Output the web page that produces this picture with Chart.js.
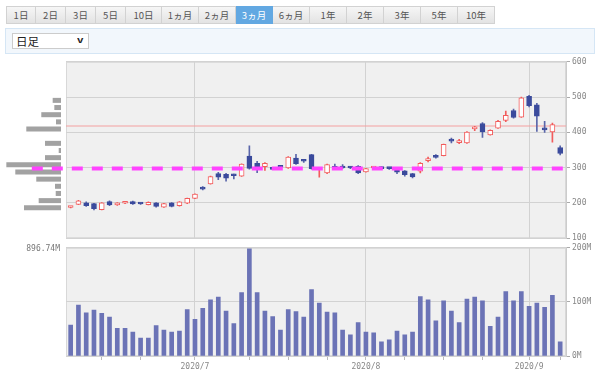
<!DOCTYPE html>
<html>
<head>
<meta charset="utf-8">
<script src="https://cdn.jsdelivr.net/npm/chart.js@4.4.0/dist/chart.umd.min.js"></script>
<style>
  body { margin: 0; width: 600px; height: 378px; background: #fff; position: relative; overflow: hidden;
         font-family: "Noto Sans CJK JP", sans-serif; }
  .tabs { position: absolute; left: 6px; top: 6px; display: flex; }
  .tab { height: 18px; line-height: 17px; font-size: 9.5px; color: #555; text-align: center;
         background: linear-gradient(#f6f6f6, #e3e3e3); border: 1px solid #d2d2d2; border-left: none;
         box-sizing: border-box; }
  .tab:first-child { border-left: 1px solid #d2d2d2; }
  .tab.on { background: #62a8e2; color: #fff; border-color: #62a8e2; }
  .bar { position: absolute; left: 5px; top: 28px; width: 590px; height: 26px; box-sizing: border-box;
         background: #f2f7fc; border: 1px solid #d5e6f5; }
  .sel { position: absolute; left: 6px; top: 4px; width: 77px; height: 16px; box-sizing: border-box;
         background: #fff; border: 1px solid #ccc; font-size: 11.5px; line-height: 14px; padding-left: 3px; color: #222; }
  .sel span { position: absolute; right: 5px; top: -1px; font-size: 8px; font-weight: bold; transform: scaleX(1.4); }
  canvas { position: absolute; }
  #profMax { position: absolute; left: 0; top: 244px; width: 60px; text-align: right;
             font: 8px "DejaVu Sans Mono", monospace; color: #777; }
</style>
</head>
<body>
<div class="tabs" id="tabs"></div>
<div class="bar"><div class="sel">日足<span>v</span></div></div>
<canvas id="prof" width="66" height="190" style="left:0;top:55px"></canvas>
<canvas id="price" width="600" height="190" style="left:0;top:55px"></canvas>
<canvas id="vol" width="600" height="137" style="left:0;top:241px"></canvas>
<div id="profMax">896.74M</div>
<script>
// period tabs
const tabLabels = ['1日', '2日', '3日', '5日', '10日', '1ヵ月', '2ヵ月', '3ヵ月', '6ヵ月', '1年', '2年', '3年', '5年', '10年'];
const tabWidths = [30, 30, 30, 30, 36, 37, 37, 37, 37, 37, 37, 37, 37, 37];
const activeTab = '3ヵ月';

// daily candles (3 months)
const opens  = [187,196,200,198,181,204,194,199,204,199,195,200,188,200,192,199,213,244,254,283,
                281,279,276,333,312,303,299,304,299,327,320,337,295,285,304,302,301,304,288,299,
                300,298,295,291,283,290,320,335,334,381,371,370,410,425,393,412,434,462,443,502,
                478,410,401,357];
const highs  = [190,207,203,199,201,206,201,203,205,200,203,201,199,201,204,214,226,246,276,287,
                284,282,311,362,318,314,300,306,331,338,323,338,299,310,310,309,303,306,298,302,
                302,300,297,292,284,314,330,337,367,384,380,402,417,428,407,434,460,466,500,505,
                482,431,426,362];
const lows   = [186,195,190,180,180,192,193,198,196,196,194,188,187,189,191,198,212,237,253,266,
                262,268,275,296,286,292,294,300,298,309,315,296,273,283,295,298,297,283,287,297,
                296,295,283,276,271,285,316,327,333,370,368,369,405,386,392,411,430,440,442,472,
                403,400,372,336];
const closes = [189,206,192,184,200,194,200,202,197,197,202,190,198,190,203,213,225,239,275,273,
                270,277,310,298,301,312,295,301,330,311,318,297,297,309,298,299,299,285,297,301,
                297,297,287,280,274,312,326,329,366,375,376,401,413,401,406,431,448,442,498,476,
                446,407,422,340];
// volume, millions
const volumes = [57,94,80,85,79,72,51,51,44,33,33,56,48,44,46,86,68,88,104,109,
                 83,60,117,198,117,83,73,48,86,82,72,123,98,81,80,48,39,62,44,43,
                 26,30,46,39,44,110,104,65,102,83,62,105,109,102,55,72,119,102,119,92,
                 98,90,112,26];

// x axis marks (candle index)
const monthIdx = [16, 38, 59];
const monthLabels = ['2020/7', '2020/8', '2020/9'];
const weekIdx = [4, 9, 23, 28, 33, 43, 48, 53, 63];

// price levels
const priceTicks = [100, 200, 300, 400, 500, 600];
const resistLevel = 418;
const pocLevel = 297.5;
const pocStartIdx = -5;

// volume by price (20 yen bins, top to bottom), millions
const profileBins = ['580-600','560-580','540-560','520-540','500-520','480-500','460-480','440-460','420-440','400-420',
                     '380-400','360-380','340-360','320-340','300-320','280-300','260-280','240-260','220-240','200-220',
                     '180-200','160-180','140-160','120-140','100-120'];
const profileVol = [null, null, null, null, null, 131, 105, 310, 79, 546,
                    null, 252, 36, 252, 860, 719, 389, 94, 83, 351,
                    582, null, null, null, null];
const profileMax = 896.74;

const xMin = -0.6, xMax = 63.75;
const RED = '#f25c5c', BLUE = '#3a4a9c';
const axisFont = { family: 'DejaVu Sans Mono', size: 8 };

// tabs
const tabs = document.getElementById('tabs');
tabLabels.forEach((t, i) => {
    const d = document.createElement('div');
    d.className = 'tab' + (t === activeTab ? ' on' : '');
    d.style.width = tabWidths[i] + 'px';
    d.textContent = t;
    tabs.appendChild(d);
});

const panelBg = {
    id: 'panelBg',
    beforeDraw(chart) {
        const { ctx, chartArea: a } = chart;
        ctx.save();
        ctx.fillStyle = '#f0f0f0';
        ctx.fillRect(a.left, a.top, a.width, a.height);
        ctx.strokeStyle = '#d8d8d8';
        ctx.strokeRect(a.left + 0.5, a.top + 0.5, a.width - 1, a.height - 1);
        ctx.restore();
    }
};

const up = opens.map((o, i) => closes[i] >= o);
const bodies = opens.map((o, i) => ({ x: i, y: [o, closes[i]] }));
const wicks = lows.map((l, i) => ({ x: i, y: [l, highs[i]] }));
const monthTicks = axis => { axis.ticks = monthIdx.map(v => ({ value: v })); };

// price chart
new Chart(document.getElementById('price'), {
    data: {
        datasets: [
            {
                type: 'line',
                data: [{ x: pocStartIdx, y: pocLevel }, { x: xMax, y: pocLevel }],
                borderColor: '#ff44ff', borderWidth: 4, borderDash: [11, 9],
                pointRadius: 0, clip: false, order: 0
            },
            {
                type: 'bar',
                data: bodies,
                backgroundColor: up.map(u => u ? '#ffffff' : BLUE),
                borderColor: up.map(u => u ? RED : BLUE),
                borderWidth: 1, borderSkipped: false, barThickness: 5, minBarLength: 2,
                grouped: false, order: 1
            },
            {
                type: 'bar',
                data: wicks,
                backgroundColor: up.map(u => u ? RED : '#5a66aa'),
                borderWidth: 0, barThickness: 1, grouped: false, order: 2
            },
            {
                type: 'line',
                data: [{ x: xMin, y: resistLevel }, { x: xMax, y: resistLevel }],
                borderColor: '#f4a0a0', borderWidth: 1, pointRadius: 0, order: 3
            }
        ]
    },
    options: {
        responsive: false,
        animation: false,
        layout: { padding: { left: 66, top: 6, bottom: 5, right: 0 } },
        plugins: { legend: { display: false }, tooltip: { enabled: false } },
        scales: {
            x: {
                type: 'linear', min: xMin, max: xMax, offset: false,
                afterBuildTicks: monthTicks,
                ticks: { display: false },
                grid: { color: '#d2d2d2', drawTicks: false, offset: false },
                border: { display: false }
            },
            y: {
                position: 'right', min: 100, max: 600,
                afterBuildTicks: axis => { axis.ticks = priceTicks.map(v => ({ value: v })); },
                afterFit: s => { s.width = 34; },
                ticks: { color: '#888', font: axisFont, padding: 2 },
                grid: { color: '#d2d2d2', tickColor: '#aaa', tickLength: 4 },
                border: { color: '#ccc' }
            }
        }
    },
    plugins: [panelBg]
});

// volume by price profile
new Chart(document.getElementById('prof'), {
    type: 'bar',
    data: {
        labels: profileBins,
        datasets: [{ data: profileVol, backgroundColor: '#a2a2a2', barPercentage: 0.7, categoryPercentage: 1 }]
    },
    options: {
        indexAxis: 'y',
        responsive: false,
        animation: false,
        layout: { padding: { left: 4, right: 5, top: 6, bottom: 5 } },
        plugins: { legend: { display: false }, tooltip: { enabled: false } },
        scales: {
            x: { display: false, reverse: true, min: 0, max: profileMax },
            y: { display: false }
        }
    }
});

// volume chart
new Chart(document.getElementById('vol'), {
    type: 'bar',
    data: {
        datasets: [{
            data: volumes.map((v, i) => ({ x: i, y: v })),
            backgroundColor: '#6b73b6', barThickness: 4
        }]
    },
    options: {
        responsive: false,
        animation: false,
        layout: { padding: { left: 66, top: 5.5, bottom: 0, right: 0 } },
        plugins: { legend: { display: false }, tooltip: { enabled: false } },
        scales: {
            x: {
                type: 'linear', min: xMin, max: xMax, offset: false,
                afterBuildTicks: axis => {
                    axis.ticks = monthIdx.concat(weekIdx).sort((a, b) => a - b).map(v => ({ value: v }));
                },
                afterFit: s => { s.height = 22; },
                ticks: {
                    color: '#888', font: axisFont, padding: 2, maxRotation: 0, autoSkip: false,
                    callback: v => { const k = monthIdx.indexOf(v); return k >= 0 ? monthLabels[k] : ''; }
                },
                grid: {
                    offset: false,
                    color: c => monthIdx.includes(c.tick && c.tick.value) ? '#d2d2d2' : 'transparent',
                    tickColor: '#bbb', tickLength: 4
                },
                border: { display: false }
            },
            y: {
                position: 'right', min: 0, max: 200,
                afterBuildTicks: axis => { axis.ticks = [0, 100, 200].map(v => ({ value: v })); },
                afterFit: s => { s.width = 34; },
                ticks: { color: '#888', font: axisFont, padding: 2, callback: v => v + 'M' },
                grid: { color: '#d2d2d2', tickColor: '#aaa', tickLength: 4 },
                border: { color: '#ccc' }
            }
        }
    },
    plugins: [panelBg]
});
</script>
</body>
</html>
